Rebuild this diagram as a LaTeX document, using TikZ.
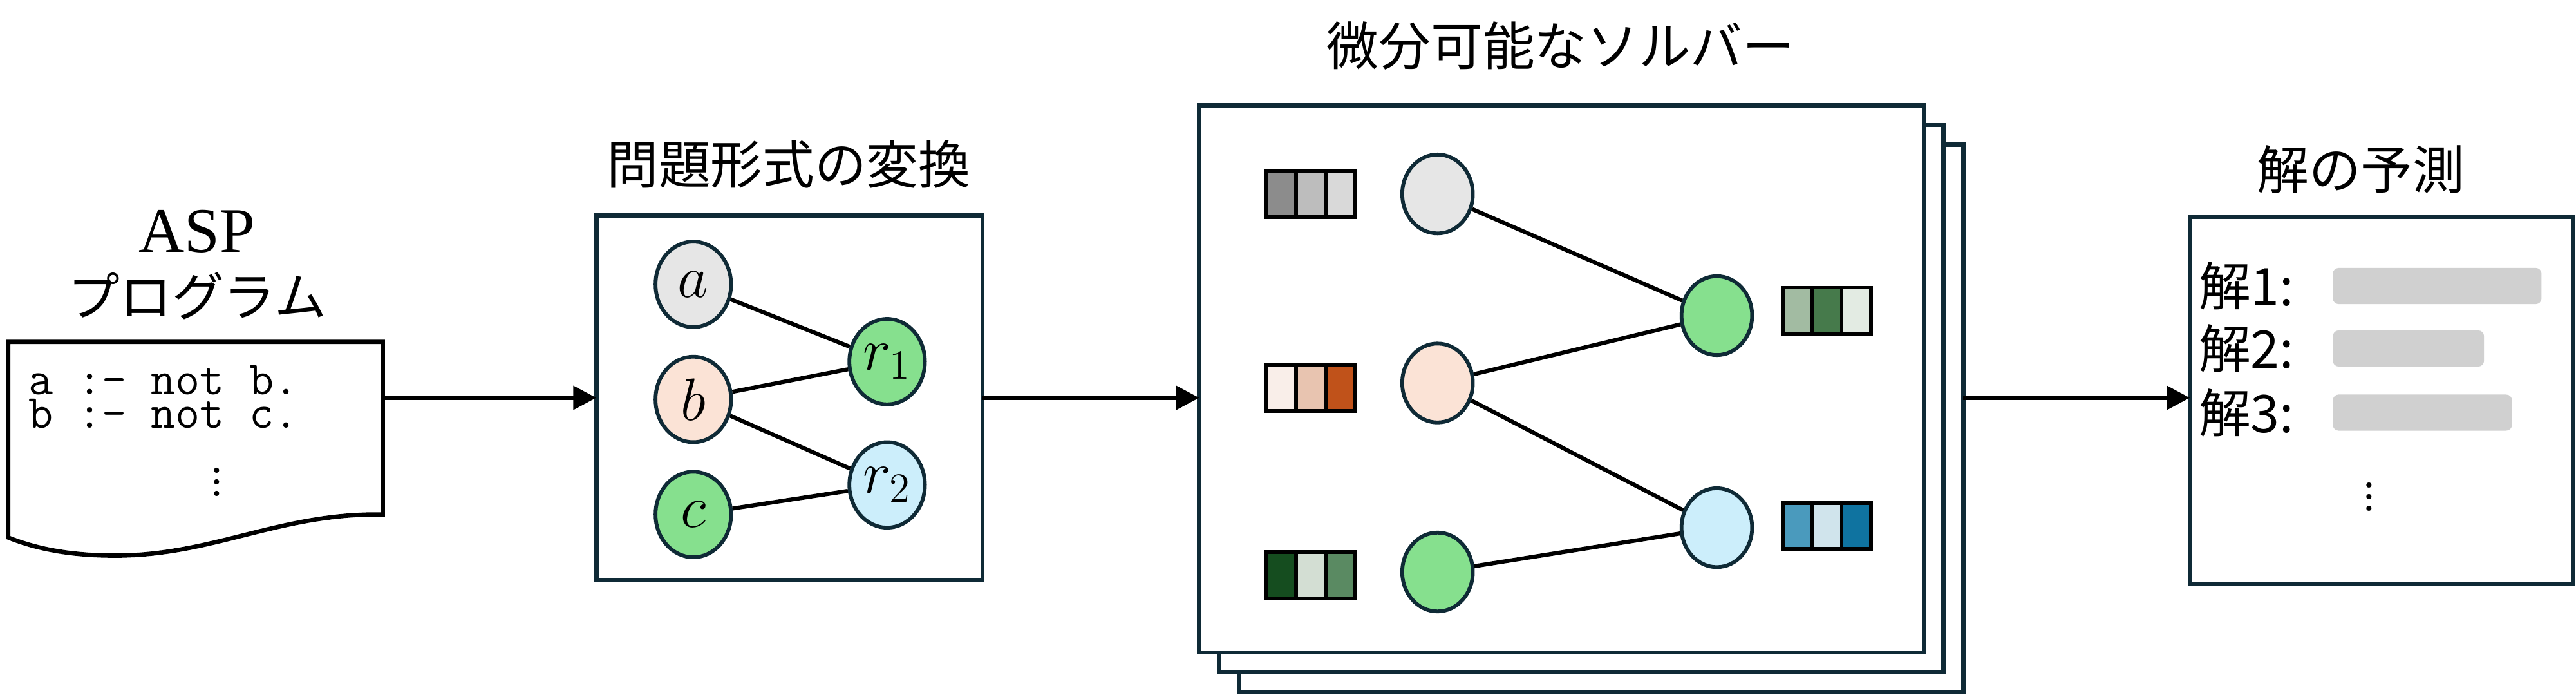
\documentclass[tikz,border=0pt]{standalone}
\usepackage{fontspec}
\newfontfamily\cjk{Noto Sans CJK JP}
\newfontfamily\lser{Liberation Serif}
\usetikzlibrary{shapes.geometric,arrows.meta}
\definecolor{dk}{HTML}{0F2A36}
\definecolor{ngrey}{HTML}{E6E6E6}
\definecolor{npeach}{HTML}{FBE3D6}
\definecolor{ngreen}{HTML}{86E08E}
\definecolor{nblue}{HTML}{CCEEFB}
\definecolor{bar}{HTML}{D0D0D0}
\begin{document}
\begin{tikzpicture}[x=0.02cm,y=-0.02cm,
  box/.style={draw=dk,line width=1.5pt,fill=white},
  nd/.style={ellipse,draw=dk,line width=1.3pt,minimum width=0.92cm,minimum height=1.04cm,inner sep=0pt,font=\fontsize{20}{20}\selectfont},
  snd/.style={ellipse,draw=dk,line width=1.3pt,minimum width=0.86cm,minimum height=0.96cm,inner sep=0pt},
  ed/.style={line width=1.4pt},
  arr/.style={line width=1.6pt,-{Triangle[length=8pt,width=8pt]}},
  ttl/.style={font=\cjk\fontsize{18}{20}\selectfont},
  cell/.style={draw=black,line width=1.3pt,minimum width=0.36cm,minimum height=0.56cm,inner sep=0pt},
  vd/.style={font=\fontsize{22}{22}\selectfont,inner sep=0pt},
  gbar/.style={fill=bar,rounded corners=2pt}]
\useasboundingbox (0,0) rectangle (1568,424);
% ASP program
\node[font=\lser\fontsize{22}{22}\selectfont] (t1) at (120,141) {ASP};
\node[ttl] (t1b) at (120,180) {プログラム};
\draw[line width=1.5pt,fill=white] (5,208) -- (233,208) -- (233,313)
  .. controls (170,312) and (130,338) .. (70,338)
  .. controls (40,338) and (20,333) .. (5,327) -- cycle;
\coordinate (docR) at (233,242);
\node[anchor=north west,align=left,inner sep=0pt,font=\ttfamily\fontsize{16.5}{11.5}\selectfont] (code) at (17,222) {a :- not b.\\b :- not c.};
\node[vd] (vd1) at (132,288) {$\vdots$};
% problem conversion
\node[ttl] (t2) at (480,100) {問題形式の変換};
\draw[box] (363,131) rectangle (598,353);
\coordinate (b2L) at (363,242); \coordinate (b2R) at (598,242);
\node[nd,fill=ngrey] (a) at (422,173) {$a$};
\node[nd,fill=npeach] (b) at (422,243) {$b$};
\node[nd,fill=ngreen] (c) at (422,313) {$c$};
\node[nd,fill=ngreen] (r1) at (540,220) {$r_1$};
\node[nd,fill=nblue] (r2) at (540,295) {$r_2$};
\draw[ed] (a) -- (r1); \draw[ed] (b) -- (r1); \draw[ed] (b) -- (r2); \draw[ed] (c) -- (r2);
\draw[arr] (docR) -- (b2L);
% solver
\node[ttl] (t3) at (950,28) {微分可能なソルバー};
\draw[box] (754,88) rectangle (1195,421);
\draw[box] (742,76) rectangle (1183,409);
\draw[box] (730,64) rectangle (1171,397);
\coordinate (b3L) at (730,242); \coordinate (b3R) at (1195,242);
\draw[arr] (b2R) -- (b3L);
\node[snd,fill=ngrey] (s1) at (875,118) {};
\node[snd,fill=npeach] (s2) at (875,233) {};
\node[snd,fill=ngreen] (s3) at (875,348) {};
\node[snd,fill=ngreen] (s4) at (1045,192) {};
\node[snd,fill=nblue] (s5) at (1045,321) {};
\draw[ed] (s1) -- (s4); \draw[ed] (s2) -- (s4); \draw[ed] (s2) -- (s5); \draw[ed] (s3) -- (s5);
% colour vectors
\foreach \n/\x/\y/\ca/\cb/\cc in {v1/780/118/8C8C8C/BDBDBD/D9D9D9, v2/780/236/F9EEE9/E8C4B0/C0521A, v3/780/350/154D1F/D3DED3/5A8A62, v4/1094/189/A2BBA2/467A4B/E3EBE3, v5/1094/320/4A9ABD/D0E4EC/0F73A0}{
  \definecolor{ca}{HTML}{\ca}\definecolor{cb}{HTML}{\cb}\definecolor{cc}{HTML}{\cc}
  \node[cell,fill=ca] (\n a) at (\x,\y) {};
  \node[cell,fill=cb] (\n b) at (\x+18,\y) {};
  \node[cell,fill=cc] (\n c) at (\x+36,\y) {};
}
% prediction
\node[ttl] (t4) at (1437,103) {解の予測};
\draw[box] (1333,132) rectangle (1566,355);
\coordinate (b4L) at (1333,242);
\draw[arr] (b3R) -- (b4L);
\node[anchor=west,font=\cjk\fontsize{18}{20}\selectfont,inner sep=0pt] (p1) at (1338,174) {解1:};
\node[anchor=west,font=\cjk\fontsize{18}{20}\selectfont,inner sep=0pt] (p2) at (1338,212) {解2:};
\node[anchor=west,font=\cjk\fontsize{18}{20}\selectfont,inner sep=0pt] (p3) at (1338,251) {解3:};
\fill[gbar] (1420,163) rectangle (1547,185);
\fill[gbar] (1420,201) rectangle (1512,223);
\fill[gbar] (1420,240) rectangle (1529,262);
\node[vd] (vd2) at (1442,297) {$\vdots$};
\end{tikzpicture}
\end{document}
